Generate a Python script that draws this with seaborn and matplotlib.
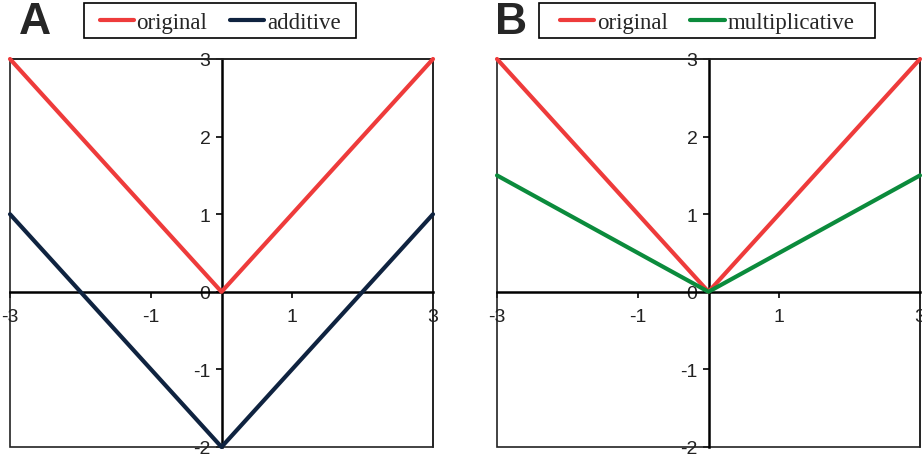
import matplotlib
matplotlib.use("Agg")
import matplotlib.pyplot as plt
import seaborn as sns
import pandas as pd
from matplotlib.patches import Rectangle

x_vals = [-3, 0, 3]
original = [3, 0, 3]
additive = [1, -2, 1]
multiplicative = [1.5, 0, 1.5]
x_ticks = [-3, -1, 1, 3]
y_ticks = [-2, -1, 0, 1, 2, 3]

sns.set_theme(style="white")
plt.rcParams['font.family'] = ['Liberation Sans', 'DejaVu Sans']

RED = "#EE3B3B"
NAVY = "#0F2340"
GREEN = "#0B8B3C"

fig = plt.figure(figsize=(9.22, 4.6), dpi=100)
W, H = 922, 460
axA = fig.add_axes([10 / W, 12 / H, 423 / W, 388 / H])
axB = fig.add_axes([497 / W, 12 / H, 423 / W, 388 / H])

panels = [
    (axA, "A", [("original", original, RED), ("additive", additive, NAVY)], (84, 4, 356, 39)),
    (axB, "B", [("original", original, RED), ("multiplicative", multiplicative, GREEN)], (539, 4, 875, 39)),
]

for ax, letter, series, lbox in panels:
    frames = []
    for name, vals, col in series:
        frames.append(pd.DataFrame({"x": x_vals, "y": vals, "series": name}))
    df = pd.concat(frames, ignore_index=True)
    sns.lineplot(data=df, x="x", y="y", hue="series", sort=False,
                 palette={n: c for n, _, c in series}, linewidth=3.0, ax=ax,
                 legend=False, clip_on=False, zorder=5)
    ax.set_xlim(-3, 3)
    ax.set_ylim(-2, 3)
    ax.set_xlabel("")
    ax.set_ylabel("")
    ax.set_xticks(x_ticks)
    ax.set_yticks(y_ticks)
    ax.set_xticklabels([str(t) for t in x_ticks])
    ax.set_yticklabels([str(t) for t in y_ticks])
    ax.spines['left'].set_position(('data', 0))
    ax.spines['bottom'].set_position(('data', 0))
    for s in ['left', 'bottom']:
        ax.spines[s].set_linewidth(1.8)
        ax.spines[s].set_color('black')
    for s in ['top', 'right']:
        ax.spines[s].set_linewidth(1.2)
        ax.spines[s].set_color('#222222')
    ax.add_patch(Rectangle((0, 0), 1, 1, transform=ax.transAxes, fill=False,
                           lw=1.2, edgecolor='#222222', clip_on=False, zorder=1))
    ax.tick_params(axis='y', direction='out', length=4, width=1.2, color='black',
                   labelsize=14, pad=4, left=True, labelcolor='#222222')
    ax.tick_params(axis='x', direction='out', length=4, width=1.2, color='black',
                   labelsize=14, pad=8, bottom=True, labelcolor='#222222')
    for lbl in ax.get_xticklabels():
        lbl.set_clip_on(False)
    ax.set_facecolor('white')

    # panel letter
    lx = 19 if letter == "A" else 495
    fig.text(lx / W, 1 - 23 / H, letter, fontsize=32, fontweight='bold',
             family=['Liberation Sans', 'DejaVu Sans'], va='center', ha='left')

    # legend
    handles = [plt.Line2D([], [], color=c, lw=3.0) for _, _, c in series]
    labels = [n for n, _, _ in series]
    x0, y0, x1, y1 = lbox
    leg = fig.legend(handles, labels, ncol=2, loc='center',
                     bbox_to_anchor=((x0 + x1) / 2 / W, 1 - ((y0 + y1) / 2 + 2) / H),
                     frameon=False,
                     prop={'family': 'Liberation Serif', 'size': 16.5},
                     handlelength=1.5, handletextpad=0.1, columnspacing=1.0,
                     borderpad=0.25, borderaxespad=0)
    fig.patches.append(Rectangle((x0 / W, 1 - y1 / H), (x1 - x0) / W, (y1 - y0) / H,
                                 transform=fig.transFigure, fill=False,
                                 lw=1.2, edgecolor='black'))

fig.savefig("out.png", dpi=100, facecolor='white')
